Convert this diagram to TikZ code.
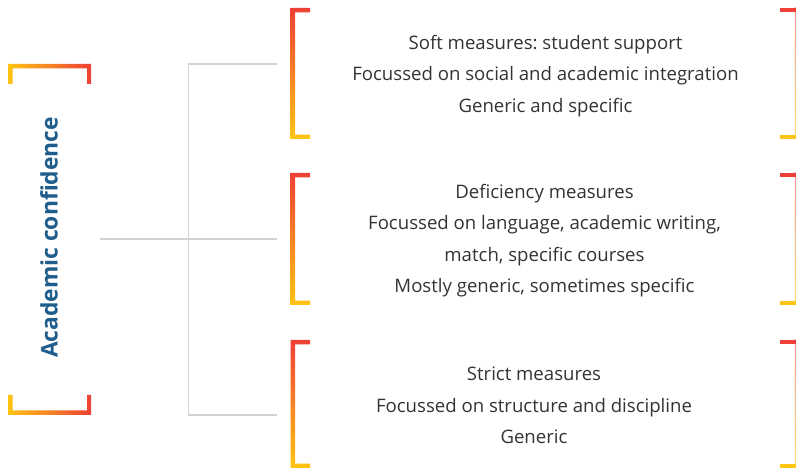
\documentclass[tikz,border=0pt]{standalone}
\usepackage{fontspec}
\setmainfont{Open Sans}
\frenchspacing
\definecolor{bred}{HTML}{EE4036}
\definecolor{byel}{HTML}{FFC413}
\definecolor{tgray}{HTML}{333333}
\definecolor{lgray}{HTML}{D2D2D2}
\definecolor{ablue}{HTML}{1F5D8C}
\tikzset{
  treeline/.style={draw=lgray, line width=1.2pt},
  hbracket/.style={left color=byel, right color=bred},
  vbracket/.style={top color=bred, bottom color=byel},
  vthin/.style={top color=bred!55, bottom color=byel!55},
  boxtext/.style={text=tgray, align=center, font=\fontsize{18.6}{31.5}\selectfont, inner sep=0pt},
  titletext/.style={text=ablue, font=\fontsize{22.8}{25}\selectfont\bfseries, rotate=90, inner sep=0pt}
}
\begin{document}
\begin{tikzpicture}[x=1pt,y=1pt]
\useasboundingbox (0,0) rectangle (796,-470);
% left brackets
\shade[hbracket] (8,-64) -- (91,-64) -- (91,-84) -- (87,-84) -- (87,-68.5) -- (12.5,-68.5) -- (12.5,-84) -- (8,-84) -- cycle;
\shade[hbracket] (8,-415) -- (91,-415) -- (91,-395) -- (87,-395) -- (87,-410.5) -- (12.5,-410.5) -- (12.5,-395) -- (8,-395) -- cycle;
\node[titletext] (title) at (49,-237.5) {Academic confidence};
% tree lines
\coordinate (root) at (100,-239);
\coordinate (hub) at (188.5,-239);
\coordinate (t1) at (188.5,-64);
\coordinate (t3) at (188.5,-415);
\coordinate (e1) at (277,-64);
\coordinate (e2) at (277,-239);
\coordinate (e3) at (277,-415);
\draw[treeline] (root) -- (hub) -- (e2);
\draw[treeline] (e1) -- (t1) -- (t3) -- (e3);
% box brackets
\foreach \top/\bot in {8/139, 173/305, 340/468}{
  \shade[vbracket] (290.7,-\top) -- (310,-\top) -- (310,-\top-4.3) -- (295.2,-\top-4.3) -- (295.2,-\bot+4.3) -- (310,-\bot+4.3) -- (310,-\bot) -- (290.7,-\bot) -- cycle;
  \shade[vthin] (794.8,-\top) rectangle (796,-\bot);
  \fill[bred] (780,-\top) rectangle (796,-\top-4.3);
  \fill[byel] (780,-\bot+4.3) rectangle (796,-\bot);
}
% texts
\node[boxtext] (b1) at (545.5,-76) {Soft measures: student support\\Focussed on social and academic integration\\Generic and specific};
\node[boxtext] (b2) at (544.5,-240.5) {Deficiency measures\\Focussed on language, academic writing,\\match, specific courses\\Mostly generic, sometimes specific};
\node[boxtext] (b3) at (534,-405.5) {Strict measures\\Focussed on structure and discipline\\Generic};
\end{tikzpicture}
\end{document}
